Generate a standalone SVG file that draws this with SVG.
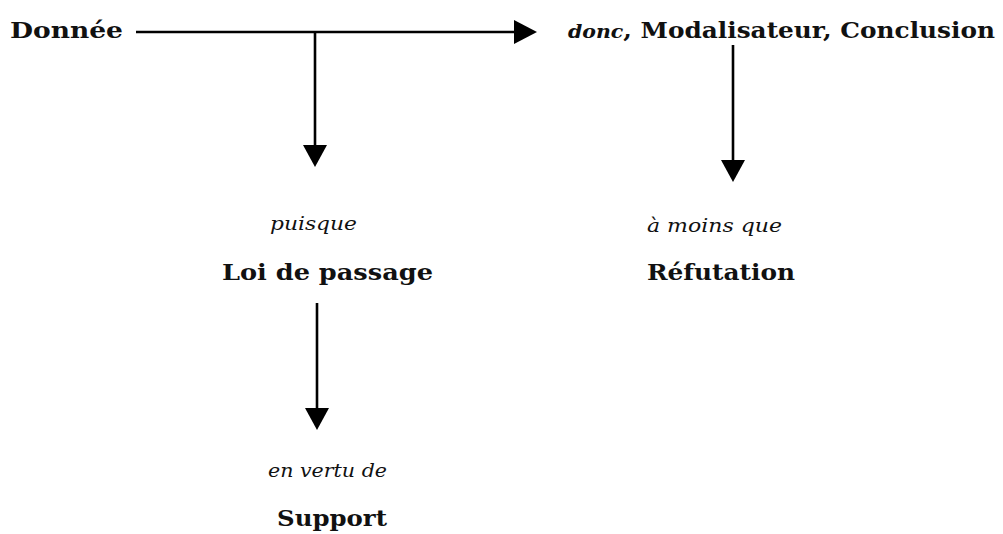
<svg xmlns="http://www.w3.org/2000/svg" width="1003" height="534" viewBox="0 0 1003 534">
<defs>
<style>
.b{font-family:"DejaVu Serif","Liberation Serif",serif;font-weight:bold;font-size:23px;fill:#111;}
.i{font-family:"DejaVu Serif","Liberation Serif",serif;font-style:italic;font-size:18px;fill:#111;}
.ln{stroke:#000;stroke-width:2.6;fill:none;}
.ah{fill:#000;}
</style>
</defs>
<rect width="1003" height="534" fill="#fff"/>
<g id="connectors">
<line class="ln" x1="136" y1="32" x2="516" y2="32"/>
<polygon class="ah" points="514,20 537,32 514,44"/>
<line class="ln" x1="315" y1="32" x2="315" y2="147"/>
<polygon class="ah" points="303,145 315,167 327,145"/>
<line class="ln" x1="733" y1="45" x2="733" y2="162"/>
<polygon class="ah" points="721,160 733,182 745,160"/>
<line class="ln" x1="317" y1="303" x2="317" y2="410"/>
<polygon class="ah" points="305,408 317,430 329,408"/>
</g>
<g id="donnee"><text class="b" x="10" y="38" textLength="113" lengthAdjust="spacingAndGlyphs">Donnée</text></g>
<g id="conclusion"><text class="b" x="568" y="38" textLength="427" lengthAdjust="spacingAndGlyphs"><tspan class="i" style="font-size:19px">donc</tspan>, Modalisateur, Conclusion</text></g>
<g id="loi">
<text class="i" x="270" y="230" textLength="87" lengthAdjust="spacingAndGlyphs">puisque</text>
<text class="b" x="222" y="280" textLength="211" lengthAdjust="spacingAndGlyphs">Loi de passage</text>
</g>
<g id="refutation">
<text class="i" x="647" y="232" textLength="135" lengthAdjust="spacingAndGlyphs">à moins que</text>
<text class="b" x="647" y="280" textLength="148" lengthAdjust="spacingAndGlyphs">Réfutation</text>
</g>
<g id="support">
<text class="i" x="268" y="477" textLength="119" lengthAdjust="spacingAndGlyphs">en vertu de</text>
<text class="b" x="277" y="526" textLength="110" lengthAdjust="spacingAndGlyphs">Support</text>
</g>
</svg>
